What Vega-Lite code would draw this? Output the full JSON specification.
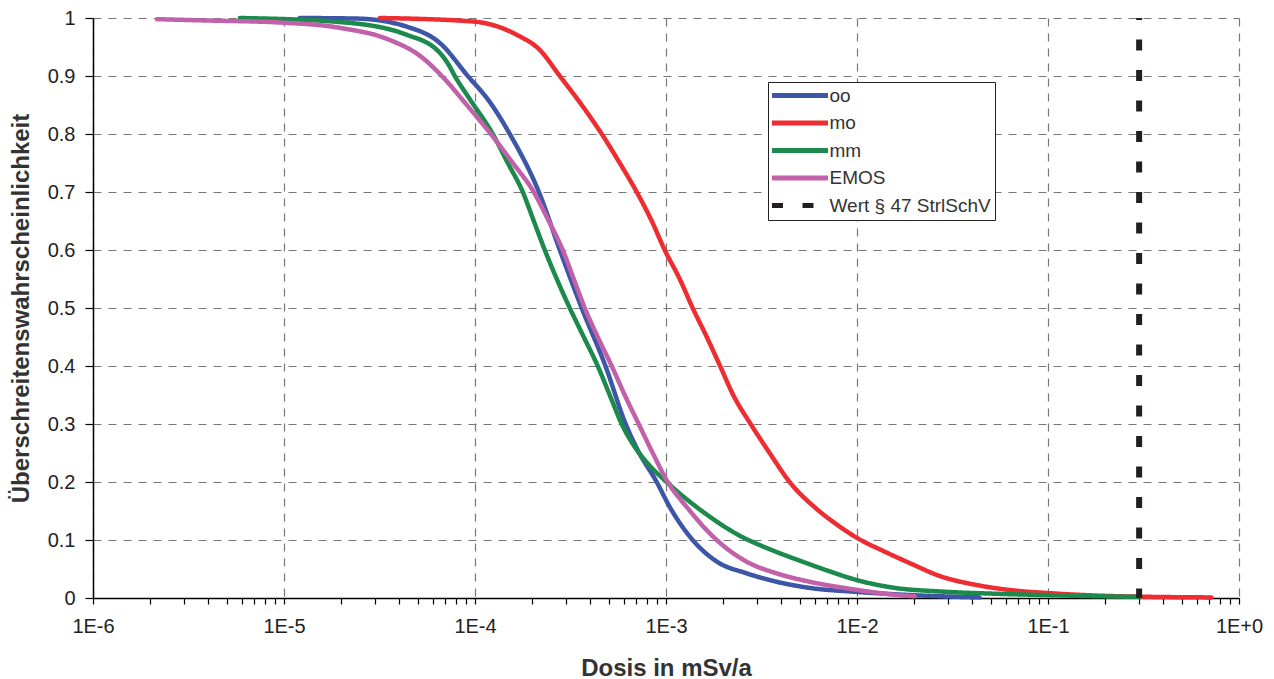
{
  "$schema": "https://vega.github.io/schema/vega-lite/v6.json",
  "width": 1146,
  "height": 580,
  "autosize": {"type": "none"},
  "padding": {"left": 93, "top": 18, "right": 35, "bottom": 81},
  "background": "white",
  "config": {
    "view": {"stroke": null},
    "font": "Liberation Sans",
    "axis": {
      "labelFont": "Liberation Sans",
      "labelFontSize": 20,
      "labelColor": "#222222",
      "titleFont": "Liberation Sans",
      "titleFontSize": 24,
      "titleFontWeight": "bold",
      "titleColor": "#333333",
      "domainColor": "#000000",
      "domainWidth": 1.5,
      "tickColor": "#000000",
      "tickWidth": 1.2,
      "gridColor": "#777777",
      "gridDash": [8, 7],
      "gridWidth": 1.2
    },
    "legend": {
      "labelFont": "Liberation Sans",
      "labelFontSize": 19,
      "labelColor": "#333333",
      "labelLimit": 300
    }
  },
  "data": {
    "values": [
      {"series": "oo", "dose": 1.21e-5, "p": 1.0},
      {"series": "oo", "dose": 2.41e-5, "p": 0.999},
      {"series": "oo", "dose": 4.4e-5, "p": 0.985},
      {"series": "oo", "dose": 6.54e-5, "p": 0.957},
      {"series": "oo", "dose": 9.17e-5, "p": 0.90},
      {"series": "oo", "dose": 1.196e-4, "p": 0.855},
      {"series": "oo", "dose": 1.521e-4, "p": 0.80},
      {"series": "oo", "dose": 2.16e-4, "p": 0.70},
      {"series": "oo", "dose": 2.78e-4, "p": 0.60},
      {"series": "oo", "dose": 3.62e-4, "p": 0.50},
      {"series": "oo", "dose": 4.82e-4, "p": 0.40},
      {"series": "oo", "dose": 6.15e-4, "p": 0.30},
      {"series": "oo", "dose": 7.11e-4, "p": 0.255},
      {"series": "oo", "dose": 8.94e-4, "p": 0.20},
      {"series": "oo", "dose": 1.046e-3, "p": 0.157},
      {"series": "oo", "dose": 1.379e-3, "p": 0.10},
      {"series": "oo", "dose": 1.842e-3, "p": 0.063},
      {"series": "oo", "dose": 2.644e-3, "p": 0.0425},
      {"series": "oo", "dose": 3.795e-3, "p": 0.028},
      {"series": "oo", "dose": 5.856e-3, "p": 0.0167},
      {"series": "oo", "dose": 9.48e-3, "p": 0.011},
      {"series": "oo", "dose": 1.67e-2, "p": 0.006},
      {"series": "oo", "dose": 4.38e-2, "p": 0.001},

      {"series": "mo", "dose": 3.18e-5, "p": 1.0},
      {"series": "mo", "dose": 9.74e-5, "p": 0.994},
      {"series": "mo", "dose": 1.655e-4, "p": 0.971},
      {"series": "mo", "dose": 2.183e-4, "p": 0.945},
      {"series": "mo", "dose": 2.779e-4, "p": 0.90},
      {"series": "mo", "dose": 3.622e-4, "p": 0.85},
      {"series": "mo", "dose": 4.609e-4, "p": 0.80},
      {"series": "mo", "dose": 5.725e-4, "p": 0.75},
      {"series": "mo", "dose": 7.025e-4, "p": 0.70},
      {"series": "mo", "dose": 8.42e-4, "p": 0.65},
      {"series": "mo", "dose": 9.845e-4, "p": 0.60},
      {"series": "mo", "dose": 1.18e-3, "p": 0.55},
      {"series": "mo", "dose": 1.379e-3, "p": 0.50},
      {"series": "mo", "dose": 1.635e-3, "p": 0.45},
      {"series": "mo", "dose": 1.92e-3, "p": 0.40},
      {"series": "mo", "dose": 2.248e-3, "p": 0.35},
      {"series": "mo", "dose": 2.774e-3, "p": 0.30},
      {"series": "mo", "dose": 3.488e-3, "p": 0.25},
      {"series": "mo", "dose": 4.439e-3, "p": 0.20},
      {"series": "mo", "dose": 6.073e-3, "p": 0.155},
      {"series": "mo", "dose": 7.817e-3, "p": 0.127},
      {"series": "mo", "dose": 1.007e-2, "p": 0.103},
      {"series": "mo", "dose": 1.395e-2, "p": 0.08},
      {"series": "mo", "dose": 1.954e-2, "p": 0.058},
      {"series": "mo", "dose": 2.705e-2, "p": 0.038},
      {"series": "mo", "dose": 4.225e-2, "p": 0.0224},
      {"series": "mo", "dose": 6.287e-2, "p": 0.0138},
      {"series": "mo", "dose": 0.1056, "p": 0.008},
      {"series": "mo", "dose": 0.186, "p": 0.004},
      {"series": "mo", "dose": 0.3398, "p": 0.002},
      {"series": "mo", "dose": 0.7172, "p": 0.001},

      {"series": "mm", "dose": 5.877e-6, "p": 1.0},
      {"series": "mm", "dose": 1.962e-5, "p": 0.993},
      {"series": "mm", "dose": 4.395e-5, "p": 0.971},
      {"series": "mm", "dose": 6.542e-5, "p": 0.94},
      {"series": "mm", "dose": 7.29e-5, "p": 0.919},
      {"series": "mm", "dose": 7.84e-5, "p": 0.90},
      {"series": "mm", "dose": 9.394e-5, "p": 0.86},
      {"series": "mm", "dose": 1.239e-4, "p": 0.80},
      {"series": "mm", "dose": 1.485e-4, "p": 0.75},
      {"series": "mm", "dose": 1.779e-4, "p": 0.70},
      {"series": "mm", "dose": 2.031e-4, "p": 0.65},
      {"series": "mm", "dose": 2.319e-4, "p": 0.60},
      {"series": "mm", "dose": 2.68e-4, "p": 0.55},
      {"series": "mm", "dose": 3.134e-4, "p": 0.50},
      {"series": "mm", "dose": 3.71e-4, "p": 0.45},
      {"series": "mm", "dose": 4.391e-4, "p": 0.40},
      {"series": "mm", "dose": 5.073e-4, "p": 0.35},
      {"series": "mm", "dose": 5.864e-4, "p": 0.30},
      {"series": "mm", "dose": 6.94e-4, "p": 0.258},
      {"series": "mm", "dose": 8.214e-4, "p": 0.228},
      {"series": "mm", "dose": 9.845e-4, "p": 0.203},
      {"series": "mm", "dose": 1.18e-3, "p": 0.18},
      {"series": "mm", "dose": 1.379e-3, "p": 0.162},
      {"series": "mm", "dose": 1.698e-3, "p": 0.14},
      {"series": "mm", "dose": 2.09e-3, "p": 0.12},
      {"series": "mm", "dose": 2.51e-3, "p": 0.105},
      {"series": "mm", "dose": 3.01e-3, "p": 0.093},
      {"series": "mm", "dose": 3.62e-3, "p": 0.082},
      {"series": "mm", "dose": 5.19e-3, "p": 0.0626},
      {"series": "mm", "dose": 7.188e-3, "p": 0.046},
      {"series": "mm", "dose": 9.95e-3, "p": 0.031},
      {"series": "mm", "dose": 1.536e-2, "p": 0.018},
      {"series": "mm", "dose": 2.804e-2, "p": 0.011},
      {"series": "mm", "dose": 5.125e-2, "p": 0.0075},
      {"series": "mm", "dose": 9.94e-2, "p": 0.005},
      {"series": "mm", "dose": 0.186, "p": 0.003},
      {"series": "mm", "dose": 0.3012, "p": 0.002},

      {"series": "EMOS", "dose": 2.163e-6, "p": 0.998},
      {"series": "EMOS", "dose": 3.63e-6, "p": 0.996},
      {"series": "EMOS", "dose": 9.87e-6, "p": 0.992},
      {"series": "EMOS", "dose": 1.962e-5, "p": 0.983},
      {"series": "EMOS", "dose": 3.583e-5, "p": 0.962},
      {"series": "EMOS", "dose": 5.14e-5, "p": 0.935},
      {"series": "EMOS", "dose": 6.704e-5, "p": 0.90},
      {"series": "EMOS", "dose": 9.06e-5, "p": 0.85},
      {"series": "EMOS", "dose": 1.21e-4, "p": 0.80},
      {"series": "EMOS", "dose": 1.577e-4, "p": 0.75},
      {"series": "EMOS", "dose": 2.031e-4, "p": 0.70},
      {"series": "EMOS", "dose": 2.433e-4, "p": 0.65},
      {"series": "EMOS", "dose": 2.88e-4, "p": 0.60},
      {"series": "EMOS", "dose": 3.289e-4, "p": 0.55},
      {"series": "EMOS", "dose": 3.755e-4, "p": 0.50},
      {"series": "EMOS", "dose": 4.391e-4, "p": 0.45},
      {"series": "EMOS", "dose": 5.197e-4, "p": 0.40},
      {"series": "EMOS", "dose": 6.079e-4, "p": 0.35},
      {"series": "EMOS", "dose": 7.194e-4, "p": 0.30},
      {"series": "EMOS", "dose": 8.52e-4, "p": 0.25},
      {"series": "EMOS", "dose": 1.021e-3, "p": 0.20},
      {"series": "EMOS", "dose": 1.283e-3, "p": 0.157},
      {"series": "EMOS", "dose": 1.842e-3, "p": 0.10},
      {"series": "EMOS", "dose": 2.644e-3, "p": 0.0626},
      {"series": "EMOS", "dose": 3.795e-3, "p": 0.0425},
      {"series": "EMOS", "dose": 5.649e-3, "p": 0.028},
      {"series": "EMOS", "dose": 8.82e-3, "p": 0.0167},
      {"series": "EMOS", "dose": 1.313e-2, "p": 0.0086},
      {"series": "EMOS", "dose": 1.775e-2, "p": 0.004},
      {"series": "EMOS", "dose": 2.002e-2, "p": 0.003},

      {"series": "Wert § 47 StrlSchV", "dose": 0.3}
    ]
  },
  "encoding": {
    "x": {
      "field": "dose",
      "type": "quantitative",
      "scale": {"type": "log", "domain": [1e-6, 1], "nice": false},
      "axis": {
        "title": "Dosis in mSv/a",
        "values": [1e-6, 2e-6, 3e-6, 4e-6, 5e-6, 6e-6, 7e-6, 8e-6, 9e-6,
                   1e-5, 2e-5, 3e-5, 4e-5, 5e-5, 6e-5, 7e-5, 8e-5, 9e-5,
                   1e-4, 2e-4, 3e-4, 4e-4, 5e-4, 6e-4, 7e-4, 8e-4, 9e-4,
                   1e-3, 2e-3, 3e-3, 4e-3, 5e-3, 6e-3, 7e-3, 8e-3, 9e-3,
                   1e-2, 2e-2, 3e-2, 4e-2, 5e-2, 6e-2, 7e-2, 8e-2, 9e-2,
                   1e-1, 2e-1, 3e-1, 4e-1, 5e-1, 6e-1, 7e-1, 8e-1, 9e-1, 1],
        "labelExpr": "abs(log(datum.value)/LN10 - round(log(datum.value)/LN10)) < 0.001 ? (datum.value >= 1 ? '1E+0' : '1E' + round(log(datum.value)/LN10)) : ''",
        "gridOpacity": {"condition": {"test": "abs(log(datum.value)/LN10 - round(log(datum.value)/LN10)) < 0.001", "value": 1}, "value": 0},
        "labelOverlap": false,
        "labelFlush": false,
        "labelBound": false,
        "tickSize": 6,
        "labelPadding": 12,
        "titlePadding": 20
      }
    }
  },
  "layer": [
    {
      "transform": [{"filter": "datum.series !== 'Wert § 47 StrlSchV'"}],
      "mark": {"type": "line", "strokeWidth": 4.5, "strokeCap": "round", "strokeJoin": "round", "interpolate": "monotone"},
      "encoding": {
        "y": {
          "field": "p",
          "type": "quantitative",
          "scale": {"domain": [0, 1], "nice": false},
          "axis": {
            "title": "Überschreitenswahrscheinlichkeit",
            "values": [0, 0.1, 0.2, 0.3, 0.4, 0.5, 0.6, 0.7, 0.8, 0.9, 1],
            "format": "~g",
            "tickSize": 8,
            "labelPadding": 10,
            "titlePadding": 14
          }
        },
        "color": {
          "field": "series",
          "type": "nominal",
          "scale": {
            "domain": ["oo", "mo", "mm", "EMOS", "Wert § 47 StrlSchV"],
            "range": ["#3d56a6", "#ee2d33", "#1c8a4c", "#c061a9", "#231f20"]
          },
          "legend": {
            "title": null,
            "orient": "none",
            "legendX": 675,
            "legendY": 64,
            "strokeColor": "#222222",
            "fillColor": "white",
            "padding": 4,
            "symbolType": "M-5.6,0H5.6",
            "symbolSize": 100,
            "symbolStrokeWidth": 5,
            "symbolOffset": 18.5,
            "rowPadding": 6.5,
            "labelOffset": 20
          }
        },
        "strokeDash": {
          "field": "series",
          "type": "nominal",
          "scale": {
            "domain": ["oo", "mo", "mm", "EMOS", "Wert § 47 StrlSchV"],
            "range": [[1, 0], [1, 0], [1, 0], [1, 0], [11, 19.5]]
          },
          "legend": {
            "title": null,
            "orient": "none",
            "legendX": 675,
            "legendY": 64,
            "strokeColor": "#222222",
            "fillColor": "white",
            "padding": 4,
            "symbolType": "M-5.6,0H5.6",
            "symbolSize": 100,
            "symbolStrokeWidth": 5,
            "symbolOffset": 18.5,
            "rowPadding": 6.5,
            "labelOffset": 20
          }
        }
      }
    },
    {
      "transform": [{"filter": "datum.series === 'Wert § 47 StrlSchV'"}],
      "mark": {"type": "rule", "strokeWidth": 6, "strokeDashOffset": 9},
      "encoding": {
        "color": {"field": "series", "type": "nominal"},
        "strokeDash": {"field": "series", "type": "nominal"}
      }
    }
  ]
}
